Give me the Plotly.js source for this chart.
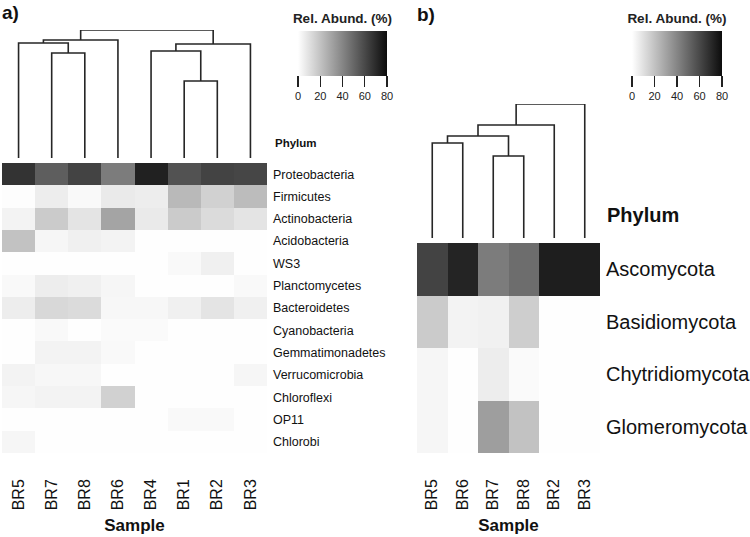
<!DOCTYPE html>
<html>
<head>
<meta charset="utf-8">
<script src="https://cdn.plot.ly/plotly-3.0.1.min.js"></script>
<style>html,body{margin:0;padding:0;background:#fff;}#chart{width:750px;height:537px;}</style>
</head>
<body>
<div id="chart"></div>
<script>
// ---------- Data ----------
// Panel a: bacterial phyla
const samplesA = ['BR5','BR7','BR8','BR6','BR4','BR1','BR2','BR3'];
const phylaA = ['Proteobacteria','Firmicutes','Actinobacteria','Acidobacteria','WS3','Planctomycetes',
  'Bacteroidetes','Cyanobacteria','Gemmatimonadetes','Verrucomicrobia','Chloroflexi','OP11','Chlorobi'];
const abundA = [
  [67, 53, 62, 43, 73, 57, 62, 61],
  [0.5, 6, 2, 7, 6, 23, 15, 22],
  [4, 17, 9, 30, 7, 17, 12, 9],
  [20, 3, 5, 4, 0.3, 0.3, 0.3, 0.3],
  [0.2, 0.2, 0.2, 0.2, 0.2, 2, 5, 0.2],
  [2, 6, 5, 3, 0.3, 0.3, 0.3, 2],
  [6, 13, 12, 2.5, 2.5, 5, 9, 5],
  [0.3, 2, 0.3, 1.5, 1.5, 0.3, 0.3, 0.3],
  [0.3, 4, 4, 2, 0.3, 0.3, 0.3, 0.3],
  [4, 2.5, 2.5, 0.3, 0.3, 0.3, 0.3, 3],
  [3, 4, 4, 15, 0.3, 0.3, 0.3, 0.3],
  [0.2, 0.2, 0.2, 0.2, 0.2, 2, 2, 0.2],
  [3, 0.2, 0.2, 0.2, 0.2, 0.2, 0.2, 0.2]
];
// Linkage for panel a (negative = leaf index+1 in samplesA order, positive = merge number), height
const mergeLeftA  = [-6, -2, -5, 3, -1, 5, 6];
const mergeRightA = [-7, -3, 1, -8, 2, -4, 4];
const mergeHeightA = [0.602, 0.820, 0.836, 0.891, 0.898, 0.922, 1.0];

// Panel b: fungal phyla
const samplesB = ['BR5','BR6','BR7','BR8','BR2','BR3'];
const phylaB = ['Ascomycota','Basidiomycota','Chytridiomycota','Glomeromycota'];
const abundB = [
  [62, 72, 43, 48, 74, 74],
  [17, 4, 4.5, 16, 0.2, 0.2],
  [3, 0.2, 6, 1.5, 0.2, 0.2],
  [3, 0.2, 32, 20, 0.2, 0.2]
];
const mergeLeftB  = [-3, -1, 2, 3, 4];
const mergeRightB = [-4, -2, 1, -5, -6];
const mergeHeightB = [0.612, 0.709, 0.761, 0.843, 1.0];

const cbTicks = [0, 20, 40, 60, 80];

// ---------- Helpers ----------
const FONT = 'Liberation Sans, Arial, sans-serif';
const W = 750, H = 537;
const px = v => v / W;
const py = v => 1 - v / H;

function dendroTrace(left, right, heights, xa, ya) {
  const pos = {}; // node -> [x, h]
  const getNode = k => k < 0 ? [(-k) - 1, 0] : pos[k];
  const xs = [], ys = [];
  for (let i = 0; i < left.length; i++) {
    const a = getNode(left[i]), b = getNode(right[i]), h = heights[i];
    xs.push(a[0], a[0], b[0], b[0], null);
    ys.push(a[1], h, h, b[1], null);
    pos[i + 1] = [(a[0] + b[0]) / 2, h];
  }
  return {type: 'scatter', mode: 'lines', x: xs, y: ys, xaxis: xa, yaxis: ya,
    line: {color: '#262626', width: 1.6}, hoverinfo: 'skip', showlegend: false};
}

const gray = [[0, '#ffffff'], [1, '#0c0c0c']];

function cbar(xLeft, yTop, len) {
  return {orientation: 'h', x: px(xLeft), xanchor: 'left', y: py(yTop), yanchor: 'top',
    len: len, lenmode: 'pixels', thickness: 45, thicknessmode: 'pixels', xpad: 0, ypad: 0,
    outlinewidth: 0, tickvals: cbTicks, ticks: 'outside', ticklen: 11, tickwidth: 1.3, tickcolor: '#222',
    tickfont: {size: 11, family: FONT, color: '#222'},
    title: {text: '<b>Rel. Abund. (%)</b>', side: 'top', font: {size: 13.5, family: FONT, color: '#222'}}};
}

const traces = [
  {type: 'heatmap', x: samplesA, y: phylaA, z: abundA, xaxis: 'x', yaxis: 'y',
   colorscale: gray, zmin: 0, zmax: 80, colorbar: cbar(298, 16, 89)},
  dendroTrace(mergeLeftA, mergeRightA, mergeHeightA, 'x2', 'y2'),
  {type: 'heatmap', x: samplesB, y: phylaB, z: abundB, xaxis: 'x3', yaxis: 'y3',
   colorscale: gray, zmin: 0, zmax: 80, colorbar: cbar(632, 16, 90)},
  dendroTrace(mergeLeftB, mergeRightB, mergeHeightB, 'x4', 'y4')
];

const hidden = {visible: false, showgrid: false, zeroline: false, fixedrange: true};

const layout = {
  width: W, height: H, margin: {l: 0, r: 0, t: 0, b: 0},
  paper_bgcolor: '#fff', plot_bgcolor: '#fff', showlegend: false,
  font: {family: FONT, color: '#111'},
  xaxis: {domain: [px(2), px(267)], anchor: 'y', type: 'category', range: [-0.5, 7.5],
    tickangle: -90, ticks: '', ticklabelstandoff: 22, tickfont: {size: 16, color: '#111'},
    showgrid: false, zeroline: false, showline: false,
    title: {text: '<b>Sample</b>', font: {size: 17, color: '#111'}, standoff: 9}},
  yaxis: {domain: [py(453), py(163)], anchor: 'x', type: 'category', autorange: 'reversed',
    side: 'right', ticks: '', ticklabelstandoff: 5, tickfont: {size: 12.5, color: '#111'},
    showgrid: false, zeroline: false, showline: false},
  xaxis2: Object.assign({domain: [px(2), px(267)], anchor: 'y2', range: [-0.5, 7.5]}, hidden),
  yaxis2: Object.assign({domain: [py(158), py(30)], anchor: 'x2', range: [0, 1.0]}, hidden),
  xaxis3: {domain: [px(417), px(600)], anchor: 'y3', type: 'category', range: [-0.5, 5.5],
    tickangle: -90, ticks: '', ticklabelstandoff: 22, tickfont: {size: 16, color: '#111'},
    showgrid: false, zeroline: false, showline: false,
    title: {text: '<b>Sample</b>', font: {size: 17, color: '#111'}, standoff: 9}},
  yaxis3: {domain: [py(453), py(243)], anchor: 'x3', type: 'category', autorange: 'reversed',
    side: 'right', ticks: '', ticklabelstandoff: 5, tickfont: {size: 20, color: '#111'},
    showgrid: false, zeroline: false, showline: false},
  xaxis4: Object.assign({domain: [px(417), px(600)], anchor: 'y4', range: [-0.5, 5.5]}, hidden),
  yaxis4: Object.assign({domain: [py(238), py(104)], anchor: 'x4', range: [0, 1.0]}, hidden),
  annotations: [
    {text: '<b>a)</b>', xref: 'paper', yref: 'paper', x: px(0), y: py(0), xanchor: 'left', yanchor: 'top',
     showarrow: false, font: {size: 19, color: '#111'}},
    {text: '<b>b)</b>', xref: 'paper', yref: 'paper', x: px(415), y: py(2), xanchor: 'left', yanchor: 'top',
     showarrow: false, font: {size: 19, color: '#111'}},
    {text: '<b>Phylum</b>', xref: 'paper', yref: 'paper', x: px(273), y: py(143), xanchor: 'left', yanchor: 'middle',
     showarrow: false, font: {size: 11.5, color: '#111'}},
    {text: '<b>Phylum</b>', xref: 'paper', yref: 'paper', x: px(605), y: py(215), xanchor: 'left', yanchor: 'middle',
     showarrow: false, font: {size: 20, color: '#111'}}
  ]
};

Plotly.newPlot('chart', traces, layout, {staticPlot: true, displayModeBar: false});
</script>
</body>
</html>
